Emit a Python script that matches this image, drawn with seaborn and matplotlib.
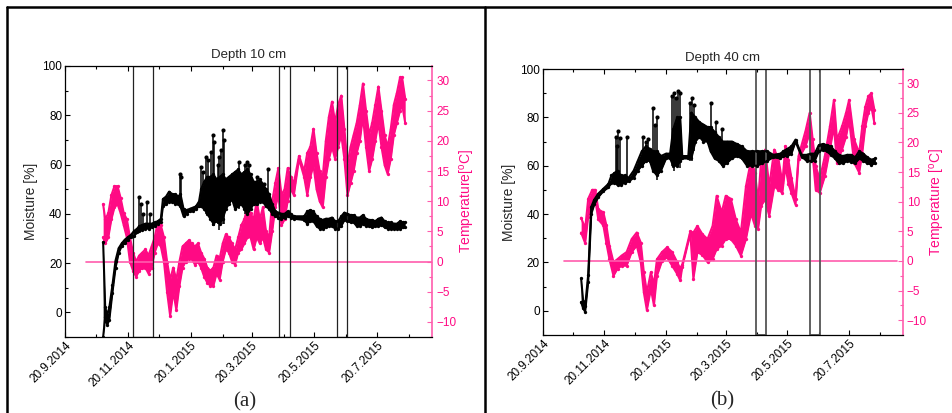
import matplotlib
matplotlib.use("Agg")
import matplotlib.pyplot as plt
import matplotlib.dates as mdates
from matplotlib.ticker import MultipleLocator, FuncFormatter
from matplotlib.lines import Line2D
import seaborn as sns
import pandas as pd

# ---------------- data ----------------
# Panel (a) depth 10 cm : temperature band (daily low / high)
a_temp_dates = ["2014-10-27","2014-10-29","2014-11-01","2014-11-04","2014-11-07","2014-11-10","2014-11-13","2014-11-16",
"2014-11-19","2014-11-22","2014-11-25","2014-11-28","2014-12-01","2014-12-04","2014-12-07","2014-12-10","2014-12-13",
"2014-12-16","2014-12-19","2014-12-22","2014-12-25","2014-12-28","2014-12-31","2015-01-03","2015-01-06","2015-01-09",
"2015-01-12","2015-01-15","2015-01-18","2015-01-21","2015-01-24","2015-01-27","2015-01-30","2015-02-02","2015-02-05",
"2015-02-08","2015-02-11","2015-02-14","2015-02-17","2015-02-20","2015-02-23","2015-02-26","2015-03-01","2015-03-04",
"2015-03-07","2015-03-10","2015-03-13","2015-03-16","2015-03-19","2015-03-22","2015-03-25","2015-03-28","2015-03-31",
"2015-04-03","2015-04-06","2015-04-09","2015-04-12","2015-04-15","2015-04-18","2015-04-21","2015-04-24","2015-04-27",
"2015-04-30","2015-05-05","2015-05-10","2015-05-13","2015-05-16","2015-05-19","2015-05-22","2015-05-25","2015-05-28",
"2015-05-31","2015-06-03","2015-06-06","2015-06-09","2015-06-12","2015-06-15","2015-06-18","2015-06-21","2015-06-24",
"2015-06-27","2015-06-30","2015-07-03","2015-07-06","2015-07-09","2015-07-12","2015-07-15","2015-07-18","2015-07-21",
"2015-07-24","2015-07-27","2015-07-30","2015-08-02","2015-08-05","2015-08-08","2015-08-11","2015-08-13","2015-08-16"]
a_temp_lo = [4,3,4,7,9,9.5,8,6,4,0,-1.5,-2.5,-1.5,-1,-1,-2,-1,1.5,3,2.5,0,-5,-9,-5,-8,-4,-1,0,0.5,0.5,-0.5,0,-1,-2.5,-3.5,
-4,-4,-2,-3,0,2,1.5,0,-0.5,1.5,2,3,4,4,2,4,3,4,2,1.5,5,9,11,6,7,10,12,11,17,14,11,14,16,12,10,9,14,17,19,17,19,21,17,11,
13,15,18,20,24,19,15,17,20,23,19,16,14.5,17,21,23,25,26,23]
a_temp_hi = [9.5,7,8,11,12.5,12.5,10.5,8,7,4,1.5,0,1,1.5,2,1,2.5,4,6.5,6,4,0,-3,-1,-3,0,2.5,3,3.5,3,2.5,3,1.5,0.5,-1,
-1.5,-1,1,0.5,3,4.5,4,3,2,4,6,7,9,8,7,10,7,9,5,4,10,13,15.5,11,12,15.5,14,13,17.5,15,18,19,22,18,15,14,20,24,26.5,23,26,
27.5,22,16,19,21,23,26,29.5,25,21,23,26,29,25,21,19,22,26,28,30.5,30.5,27]

# Panel (a) moisture: dense base band (low / high)
a_moist_dates = ["2014-10-27","2014-10-29","2014-10-31","2014-11-02","2014-11-05","2014-11-08","2014-11-11","2014-11-14",
"2014-11-17","2014-11-20","2014-11-23","2014-11-26","2014-11-29","2014-12-01","2014-12-04","2014-12-07","2014-12-10",
"2014-12-13","2014-12-16","2014-12-19","2014-12-22","2014-12-24","2014-12-27","2014-12-30","2015-01-02","2015-01-05",
"2015-01-08","2015-01-10","2015-01-13","2015-01-16","2015-01-19","2015-01-22","2015-01-25","2015-01-28","2015-01-30",
"2015-02-02","2015-02-05","2015-02-08","2015-02-11","2015-02-14","2015-02-17","2015-02-20","2015-02-23","2015-02-26",
"2015-03-01","2015-03-04","2015-03-07","2015-03-10","2015-03-13","2015-03-16","2015-03-19","2015-03-22","2015-03-25",
"2015-03-28","2015-03-31","2015-04-03","2015-04-06","2015-04-09","2015-04-12","2015-04-15","2015-04-18","2015-04-21",
"2015-04-24","2015-04-27","2015-04-30","2015-05-10","2015-05-13","2015-05-16","2015-05-19","2015-05-22","2015-05-25",
"2015-05-28","2015-05-31","2015-06-03","2015-06-06","2015-06-09","2015-06-12","2015-06-15","2015-06-18","2015-06-21",
"2015-06-24","2015-06-27","2015-06-30","2015-07-03","2015-07-06","2015-07-09","2015-07-12","2015-07-15","2015-07-18",
"2015-07-21","2015-07-24","2015-07-27","2015-07-30","2015-08-02","2015-08-05","2015-08-08","2015-08-11","2015-08-14",
"2015-08-16"]
a_moist_lo = [-10,-2,-5,-3,8,18,24,27,28,29.5,30.5,31,32.5,33,33.5,34,34,34.5,35,36,36.5,43,44,45,45,44,44,43,39,40,41,41,42,
43,43,42,40,38,36,37,36,38,42,44,46,42,43,44,42,40,42,44,44,45,45,43,42,40,39,38.5,38,38.5,39,38.5,38,37.5,36,37,37,35,34,
34,34.5,35,35,34,34,35,37.5,37,36.5,36.5,35,35,36,35,35,34.5,35,35,35.5,34.5,34,34,34,34,34,34.5,34.5]
a_moist_hi = [28.5,2,-1,2,11,21,26,28,29.5,30.5,31.5,33,34,35,35.5,36,36,36,36.5,37,38,46,47,49,48,48,47,48,42,41.5,42,42.5,
43,45,50,53,55,55,56,54,55,56,54,55,56,57,58,56,57,58,56,53,53,54,52,50,48,44,41,40.5,40,40,41,40,39,39,41,41.5,41,39,38,
37.5,38,38,38.5,37,37,39,40.5,40,39.5,39.5,38.5,38.5,39.5,38,37.5,37.5,37,38,38.5,37,36.5,36.5,36,36,37,36.5,36.5]
# Panel (a) moisture: isolated spikes (bottom / top)
a_spike_dates = ["2014-12-01","2014-12-03","2014-12-05","2014-12-09","2014-12-11","2015-01-10","2015-01-11","2015-01-30",
"2015-02-01","2015-02-04","2015-02-06","2015-02-09","2015-02-11","2015-02-12","2015-02-15","2015-02-16","2015-02-18",
"2015-02-20","2015-02-21","2015-03-08","2015-03-14","2015-03-16","2015-03-17","2015-03-25","2015-04-01","2015-04-05"]
a_spike_lo = [34,34,34,34,34,44,42,43,44,40,40,38,35,35,36,33.5,36,36,36,42,40,40,42,43,45,44]
a_spike_hi = [47,44,40,45,40,56,55,59,57,63,62,65,72,69,60,63,66,74,70,61,60,61,60,55,52,58]

# Panel (b) depth 40 cm : temperature band
b_temp_dates = ["2014-10-28","2014-11-01","2014-11-04","2014-11-08","2014-11-11","2014-11-14","2014-11-19","2014-11-22",
"2014-11-25","2014-11-29","2014-12-03","2014-12-07","2014-12-12","2014-12-17","2014-12-22","2014-12-26","2014-12-29",
"2015-01-01","2015-01-05","2015-01-08","2015-01-11","2015-01-16","2015-01-21","2015-01-26","2015-01-31","2015-02-03",
"2015-02-05","2015-02-13","2015-02-16","2015-02-20","2015-02-25","2015-03-02","2015-03-07","2015-03-11","2015-03-16",
"2015-03-20","2015-03-25","2015-03-30","2015-04-04","2015-04-09","2015-04-14","2015-04-18","2015-04-21","2015-04-24",
"2015-04-28","2015-05-02","2015-05-07","2015-05-11","2015-05-15","2015-05-18","2015-05-21","2015-05-24","2015-05-28",
"2015-05-31","2015-06-07","2015-06-11","2015-06-14","2015-06-17","2015-06-21","2015-06-26","2015-07-01","2015-07-05",
"2015-07-08","2015-07-13","2015-07-17","2015-07-20","2015-07-25","2015-07-30","2015-08-02","2015-08-05","2015-08-08",
"2015-08-11","2015-08-14"]
b_temp_lo = [4.8,3,7.5,9.3,10.4,7,6,3,0.3,-2.5,-1.3,-0.8,-0.8,1.5,2.6,-0.2,-5.3,-8.3,-4.7,-7.5,-2.5,0,0.6,-0.8,-2.2,-3.3,
-1,4.6,-3,1.5,1,-0.2,0.3,2,2.6,3.7,3.7,2.6,0.9,3.7,8,5.9,5.4,9.3,10.4,7.6,12.6,12,11.5,16,13,11.5,9.5,17.2,19.4,21.6,17.7,
12,11.5,14.3,18.8,22.7,16.6,18.8,21,23.8,16.6,14.9,18.2,22.7,25,26,23.3]
b_temp_hi = [7.3,5.5,10.5,12,12,8.7,8.2,6,2.6,-0.2,0.3,0.9,1.5,3.7,4.8,3.1,-1.9,-5.3,-1.9,-4,0.3,1.5,2.3,1.5,-0.2,-1.3,
-0.6,5,4.8,5.9,4.5,3.7,5.9,11,8.2,11,10.5,7,4.8,12.6,17,14.9,10,17,18.8,12.6,18.8,17.4,13.2,19.4,17,14,10.5,17.7,22,25,
20.5,16,13.8,17.7,22.7,27.2,20.5,22.7,25,27.2,20.5,18.2,22.7,26,27.8,28.3,25.5]

# Panel (b) moisture: dense base band
b_moist_dates = ["2014-10-28","2014-10-30","2014-11-01","2014-11-04","2014-11-07","2014-11-10","2014-11-14","2014-11-19",
"2014-11-24","2014-11-27","2014-11-30","2014-12-03","2014-12-06","2014-12-10","2014-12-14","2014-12-19","2014-12-23",
"2014-12-27","2014-12-31","2015-01-04","2015-01-07","2015-01-11","2015-01-15","2015-01-20","2015-01-24","2015-01-27",
"2015-01-31","2015-02-03","2015-02-05","2015-02-11","2015-02-14","2015-02-18","2015-02-22","2015-02-26","2015-03-02",
"2015-03-05","2015-03-09","2015-03-13","2015-03-17","2015-03-21","2015-03-26","2015-03-31","2015-04-05","2015-04-10",
"2015-04-15","2015-04-20","2015-04-25","2015-04-30","2015-05-06","2015-05-13","2015-05-16","2015-05-20","2015-05-24",
"2015-05-28","2015-06-03","2015-06-08","2015-06-12","2015-06-16","2015-06-20","2015-06-24","2015-06-28","2015-07-02",
"2015-07-06","2015-07-10","2015-07-14","2015-07-18","2015-07-22","2015-07-26","2015-07-30","2015-08-03","2015-08-07",
"2015-08-11","2015-08-15"]
b_moist_lo = [3.6,1,-0.4,12,40,44,47,49.5,51,53,53,52,52,53,53.5,55,58,60,62,62,58,56,58,63,63,60,60,62,63,63,63,70,72,70,
70,66,63,62,60,61,63,64,63,60,60,60,61,62,63.5,63,64,64,65,70,63.8,62,62,62,66,66.5,66,64.5,63,61,61,62,61.5,61,63,62,61,
60.5,61]
b_moist_hi = [13.4,4,2,15,43,46,48.5,50.5,52.5,56,57,58,56,56,55,58,62,66,68,67,66,66,64,65,65,75,80,80,64,64,82,80,78,77,
76,76,74,72,70,70,70,69,68,66,66,66,66,66,64.5,65,66,67,68,70.8,64.5,64.5,65,65,68.5,69,68.5,68,66,64.5,64,64.5,64.5,63.5,
66,65,63.5,62.5,63]
# Panel (b) moisture: isolated spikes
b_spike_dates = ["2014-12-01","2014-12-02","2014-12-03","2014-12-05","2014-12-12","2014-12-28","2014-12-31","2015-01-02",
"2015-01-07","2015-01-09","2015-01-11","2015-01-26","2015-01-28","2015-01-30","2015-02-01","2015-02-03","2015-02-13",
"2015-02-15","2015-02-17","2015-03-05","2015-03-10","2015-03-16"]
b_spike_lo = [53,53,53,53,54,60,62,62,60,58,54,60,58,60,60,59,62,62,66,66,63,60]
b_spike_hi = [72,68,74.5,71.5,72,72,70,71,84,77,80,89,90,88,91,90,86,88,85,86,78,75]

# zero-degree reference lines and marked periods
a_zero_dates = ["2014-10-10", "2015-09-11"]
b_zero_dates = ["2014-10-11", "2015-09-05"]
zero_vals = [0, 0]
a_periods = [("2014-11-25", "2014-12-14"), ("2015-04-16", "2015-04-26"), ("2015-06-11", "2015-06-21")]
b_periods = [("2015-04-19", "2015-04-29"), ("2015-06-11", "2015-06-21")]

titles = ["Depth 10 cm", "Depth 40 cm"]
temp_labels = ["Temperature[$^{\\mathrm{o}}$C]", "Temperature [$^{\\mathrm{o}}$C]"]
panel_labels = ["(a)", "(b)"]

# ---------------- style ----------------
sns.set_style("ticks")
plt.rcParams["font.family"] = ["Liberation Sans", "DejaVu Sans"]
plt.rcParams["mathtext.fontset"] = "custom"
plt.rcParams["mathtext.rm"] = "Liberation Sans"
plt.rcParams["mathtext.it"] = "Liberation Sans:italic"

PINK = "#ff0a84"
PINK_AX = "#ff5cad"
W, H = 953, 413
TICK_FS = 8.5

fig = plt.figure(figsize=(W / 100, H / 100), dpi=100)

def date_fmt(x, pos):
    d = mdates.num2date(x)
    return f"{d.day}.{d.month}.{d.year}"

def band(ax, dates, lo, hi, color):
    ax.fill_between(dates, lo, hi, color=color, linewidth=0)
    for vals in (lo, hi):
        sns.lineplot(x=dates, y=vals, ax=ax, color=color, linewidth=1.5, marker="o", markersize=2.4,
                     markeredgewidth=0, sort=False)

def make_panel(rect, tdates, tlo, thi, mdates_, mlo, mhi, sdates, slo, shi, zdates, periods,
               title, tlabel, rect_color, rect_lw):
    ax = fig.add_axes(rect)
    ax2 = ax.twinx()
    ax.set_zorder(ax2.get_zorder() + 1)
    ax.patch.set_visible(False)

    # temperature (right axis)
    band(ax2, pd.to_datetime(tdates), tlo, thi, PINK)
    sns.lineplot(x=pd.to_datetime(zdates), y=zero_vals, ax=ax2, color=PINK_AX, linewidth=1.2)

    # moisture (left axis)
    band(ax, pd.to_datetime(mdates_), mlo, mhi, "black")
    sd = pd.to_datetime(sdates)
    ax.vlines(sd, slo, shi, color="black", linewidth=1.1)
    sns.scatterplot(x=sd, y=shi, ax=ax, color="black", s=9, linewidth=0)

    for s, e in periods:
        ax.axvspan(pd.Timestamp(s), pd.Timestamp(e), fill=False, edgecolor=rect_color, linewidth=rect_lw)

    ax.set_xlim(pd.Timestamp("2014-09-20"), pd.Timestamp("2015-09-11"))
    ax.set_ylim(-10, 100)
    ax2.set_ylim(-12.5, 32.4)

    ax.xaxis.set_major_locator(mdates.MonthLocator(bymonth=[1, 3, 5, 7, 9, 11], bymonthday=20))
    ax.xaxis.set_minor_locator(mdates.MonthLocator(bymonthday=20))
    ax.xaxis.set_major_formatter(FuncFormatter(date_fmt))
    ax.yaxis.set_major_locator(MultipleLocator(20))
    ax.yaxis.set_minor_locator(MultipleLocator(10))
    ax2.yaxis.set_major_locator(MultipleLocator(5))
    ax2.yaxis.set_minor_locator(MultipleLocator(2.5))

    ax.tick_params(axis="both", which="both", direction="in", top=True, right=False,
                   labelsize=TICK_FS, width=0.8, colors="black")
    ax.tick_params(which="major", length=3.5, pad=2)
    ax.tick_params(which="minor", length=2)
    ax2.tick_params(axis="y", which="both", direction="in", colors=PINK_AX, labelcolor=PINK,
                    labelsize=TICK_FS, width=0.8)
    ax2.tick_params(which="major", length=3.5, pad=3)
    ax2.tick_params(which="minor", length=2)
    for lab in ax.get_xticklabels():
        lab.set_rotation(45)
        lab.set_ha("right")
        lab.set_va("top")
        lab.set_rotation_mode("anchor")

    ax.spines["right"].set_visible(False)
    for s in ["left", "top", "bottom"]:
        ax.spines[s].set_color("black")
        ax.spines[s].set_linewidth(0.9)
        ax2.spines[s].set_visible(False)
    ax2.spines["right"].set_color(PINK_AX)
    ax2.spines["right"].set_linewidth(1.2)

    ax.set_xlabel("")
    ax.set_ylabel("Moisture [%]", fontsize=10, labelpad=3)
    ax2.set_ylabel(tlabel, fontsize=10, color=PINK, labelpad=1)
    ax.set_title(title, fontsize=9.5, pad=6)
    return ax, ax2

make_panel([65 / W, 1 - 337 / H, 367 / W, 271 / H], a_temp_dates, a_temp_lo, a_temp_hi,
           a_moist_dates, a_moist_lo, a_moist_hi, a_spike_dates, a_spike_lo, a_spike_hi,
           a_zero_dates, a_periods, titles[0], temp_labels[0], "#222222", 0.9)
make_panel([542.7 / W, 1 - 335 / H, 360 / W, 266 / H], b_temp_dates, b_temp_lo, b_temp_hi,
           b_moist_dates, b_moist_lo, b_moist_hi, b_spike_dates, b_spike_lo, b_spike_hi,
           b_zero_dates, b_periods, titles[1], temp_labels[1], "#555555", 1.3)

# panel labels
fig.text(245 / W, 1 - 402 / H, panel_labels[0], fontsize=15, family=["Liberation Serif", "DejaVu Serif"],
         ha="center", va="center")
fig.text(722 / W, 1 - 401 / H, panel_labels[1], fontsize=15, family=["Liberation Serif", "DejaVu Serif"],
         ha="center", va="center")

# table-like frame
fig.add_artist(Line2D([7 / W, 1], [1 - 7 / H, 1 - 7 / H], transform=fig.transFigure, color="black", lw=1.8))
fig.add_artist(Line2D([7 / W, 7 / W], [0, 1 - 7 / H], transform=fig.transFigure, color="black", lw=1.8))
fig.add_artist(Line2D([485 / W, 485 / W], [0, 1 - 7 / H], transform=fig.transFigure, color="black", lw=1.8))

fig.savefig("out.png", dpi=100)
